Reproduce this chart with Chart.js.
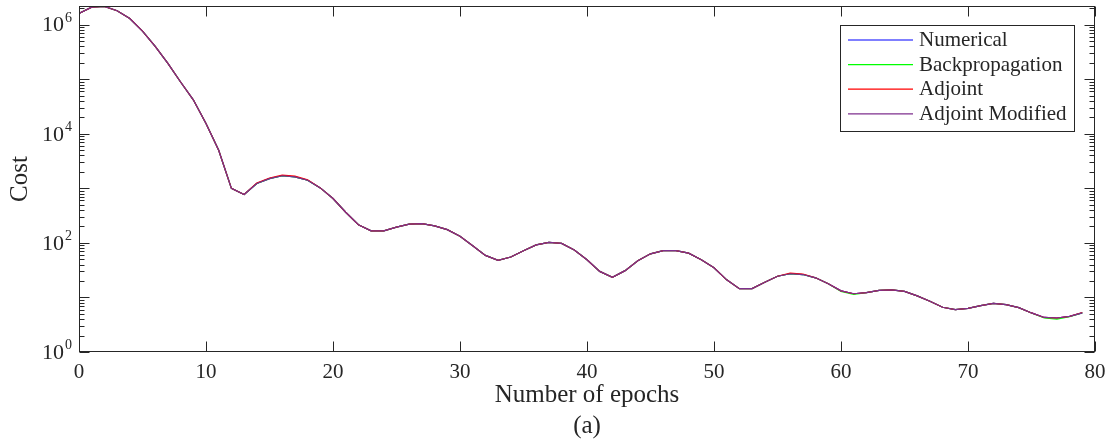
<!DOCTYPE html>
<html>
<head>
<meta charset="utf-8">
<title>Cost per epoch</title>
<script src="https://cdn.jsdelivr.net/npm/chart.js@4.4.1/dist/chart.umd.min.js"></script>
<style>
  html, body { margin: 0; padding: 0; background: #fff; }
  #wrap { width: 1114px; height: 443px; }
</style>
</head>
<body>
<div id="wrap"><canvas id="cost"></canvas></div>
<script>
const epochs = Array.from({ length: 80 }, (_, i) => i)

const numerical = [
  1.6e6, 2.1e6, 2.16e6, 1.8e6, 1.3e6, 7.6e5, 4.0e5, 1.95e5, 8.9e4, 4.2e4,
  1.55e4, 5.0e3, 1000, 770, 1230, 1510, 1700, 1620, 1410, 1020,
  650, 365, 215, 166, 166, 195, 220, 225, 205, 175,
  132, 89, 59, 48, 55, 72, 92, 102, 98, 74,
  49, 30, 23.4, 31, 47, 63, 72, 72, 65, 49,
  35, 21, 14.5, 14.5, 19, 24.5, 27.2, 26.3, 22.9, 17.8,
  13.2, 11.7, 12.3, 13.5, 13.8, 12.9, 10.7, 8.5, 6.6, 6.0,
  6.3, 7.1, 7.8, 7.4, 6.5, 5.2, 4.3, 4.2, 4.5, 5.2
]
const backprop = [
  1.6e6, 2.1e6, 2.16e6, 1.8e6, 1.3e6, 7.6e5, 4.0e5, 1.95e5, 8.9e4, 4.2e4,
  1.55e4, 5.0e3, 1000, 770, 1230, 1510, 1700, 1620, 1410, 1020,
  650, 365, 215, 166, 166, 195, 220, 225, 205, 175,
  132, 89, 59, 48, 55, 72, 92, 102, 98, 74,
  49, 30, 23.4, 31, 47, 63, 72, 72, 65, 49,
  35, 21, 14.5, 14.5, 19, 24.5, 27.2, 26.3, 22.9, 17.8,
  12.9, 11.4, 12.3, 13.5, 13.8, 12.9, 10.7, 8.5, 6.6, 6.0,
  6.3, 7.1, 7.8, 7.4, 6.5, 5.2, 4.2, 4.0, 4.45, 5.2
]
const adjoint = [
  1.6e6, 2.1e6, 2.16e6, 1.8e6, 1.3e6, 7.6e5, 4.0e5, 1.95e5, 8.9e4, 4.2e4,
  1.55e4, 5.0e3, 1000, 770, 1250, 1550, 1750, 1670, 1430, 1020,
  650, 365, 215, 166, 166, 195, 220, 225, 205, 175,
  132, 89, 59, 48, 55, 72, 92, 102, 98, 74,
  49, 30, 23.4, 31, 47, 63, 72, 72, 65, 49,
  35, 21, 14.5, 14.5, 19, 24.5, 27.8, 26.9, 22.9, 17.8,
  13.2, 11.7, 12.3, 13.5, 13.8, 12.9, 10.7, 8.5, 6.6, 6.0,
  6.3, 7.1, 7.8, 7.4, 6.5, 5.2, 4.3, 4.2, 4.5, 5.3
]
const adjointModified = [
  1.6e6, 2.1e6, 2.16e6, 1.8e6, 1.3e6, 7.6e5, 4.0e5, 1.95e5, 8.9e4, 4.2e4,
  1.55e4, 5.0e3, 1000, 770, 1230, 1510, 1700, 1620, 1410, 1020,
  650, 365, 215, 166, 166, 195, 220, 225, 205, 175,
  132, 89, 59, 48, 55, 72, 92, 102, 98, 74,
  49, 30, 23.4, 31, 47, 63, 72, 72, 65, 49,
  35, 21, 14.5, 14.5, 19, 24.5, 27.2, 26.3, 22.9, 17.8,
  13.2, 11.7, 12.3, 13.5, 13.8, 12.9, 10.7, 8.5, 6.6, 6.0,
  6.3, 7.1, 7.8, 7.4, 6.5, 5.2, 4.3, 4.2, 4.5, 5.2
]

const seriesNames = ["Numerical", "Backpropagation", "Adjoint", "Adjoint Modified"]
const seriesColors = ["#0000ff", "#00ff00", "#ff0000", "#7e2f8e"]
const yDecades = [0, 2, 4, 6]
const xTicks = [0, 10, 20, 30, 40, 50, 60, 70, 80]

const ink = "#262626"
const serif = "'Liberation Serif', 'Times New Roman', serif"

const toPoints = values => values.map((v, i) => ({ x: epochs[i], y: v }))

// box, inward ticks, y labels with exponents, axis titles and legend
const matlabAxes = {
  id: "matlabAxes",
  afterDraw(chart) {
    const { ctx, chartArea: a, scales } = chart
    const xs = scales.x, ys = scales.y
    const L = Math.round(a.left) + 0.5, R = Math.round(a.right) - 0.5
    const T = Math.round(a.top) + 0.5, B = Math.round(a.bottom) - 0.5

    ctx.save()
    ctx.strokeStyle = ink
    ctx.lineWidth = 1
    ctx.strokeRect(L, T, R - L, B - T)

    ctx.beginPath()
    xTicks.forEach(t => {
      const px = Math.round(xs.getPixelForValue(t)) + 0.5
      ctx.moveTo(px, B); ctx.lineTo(px, B - 10)
      ctx.moveTo(px, T); ctx.lineTo(px, T + 10)
    })
    for (let d = 0; d <= 6; d++) {
      for (let m = 1; m <= 9; m++) {
        const v = m * Math.pow(10, d)
        if (v < ys.min || v > ys.max) continue
        const py = Math.round(ys.getPixelForValue(v)) + 0.5
        const len = m === 1 ? 10 : 5
        ctx.moveTo(L, py); ctx.lineTo(L + len, py)
        ctx.moveTo(R, py); ctx.lineTo(R - len, py)
      }
    }
    ctx.stroke()

    // y tick labels: 10 with a raised exponent
    ctx.fillStyle = ink
    yDecades.forEach(d => {
      const py = ys.getPixelForValue(Math.pow(10, d))
      ctx.font = "14px " + serif
      ctx.textAlign = "right"
      ctx.textBaseline = "alphabetic"
      const expW = ctx.measureText(String(d)).width
      ctx.fillText(String(d), 72, py - 3)
      ctx.font = "22px " + serif
      ctx.textBaseline = "middle"
      ctx.fillText("10", 71 - expW, py + 1)
    })

    // axis titles
    ctx.textAlign = "center"
    ctx.textBaseline = "alphabetic"
    ctx.font = "25px " + serif
    ctx.fillText("Number of epochs", (a.left + a.right) / 2, 402)
    ctx.fillText("(a)", (a.left + a.right) / 2, 433)
    ctx.save()
    ctx.translate(27, (a.top + a.bottom) / 2)
    ctx.rotate(-Math.PI / 2)
    ctx.fillText("Cost", 0, 0)
    ctx.restore()

    // legend
    const lx = 840.5, ly = 25.5, lw = 234, lh = 106
    ctx.fillStyle = "#fff"
    ctx.fillRect(lx, ly, lw, lh)
    ctx.strokeRect(lx, ly, lw, lh)
    ctx.font = "21px " + serif
    ctx.textAlign = "left"
    chart.data.datasets.forEach((ds, i) => {
      const base = 46 + i * 24.6
      ctx.strokeStyle = ds.borderColor
      ctx.lineWidth = 1.2
      ctx.beginPath()
      ctx.moveTo(848, base - 6)
      ctx.lineTo(913, base - 6)
      ctx.stroke()
      ctx.fillStyle = ink
      ctx.fillText(ds.label, 919, base)
    })
    ctx.restore()
  }
}

const allSeries = [numerical, backprop, adjoint, adjointModified]

new Chart(document.getElementById("cost"), {
  type: "line",
  data: {
    // later series are plotted over earlier ones
    datasets: allSeries.map((values, i) => ({
      label: seriesNames[i],
      data: toPoints(values),
      borderColor: seriesColors[i],
      borderWidth: 1.2,
      pointRadius: 0,
      tension: 0,
      fill: false,
      order: allSeries.length - 1 - i
    }))
  },
  options: {
    responsive: true,
    maintainAspectRatio: false,
    animation: false,
    layout: { padding: { left: 0, right: 19, top: 6, bottom: 0 } },
    plugins: { legend: { display: false }, tooltip: { enabled: false } },
    scales: {
      x: {
        type: "linear",
        min: 0,
        max: 80,
        grid: { display: false, drawTicks: false },
        border: { display: false },
        ticks: {
          stepSize: 10,
          color: ink,
          font: { family: serif, size: 21 },
          padding: 8,
          maxRotation: 0
        },
        afterFit: scale => { scale.height = 91 }
      },
      y: {
        type: "logarithmic",
        min: 1,
        max: 2.2e6,
        grid: { display: false, drawTicks: false },
        border: { display: false },
        ticks: { display: false },
        afterFit: scale => { scale.width = 79 }
      }
    }
  },
  plugins: [matlabAxes]
})
</script>
</body>
</html>
